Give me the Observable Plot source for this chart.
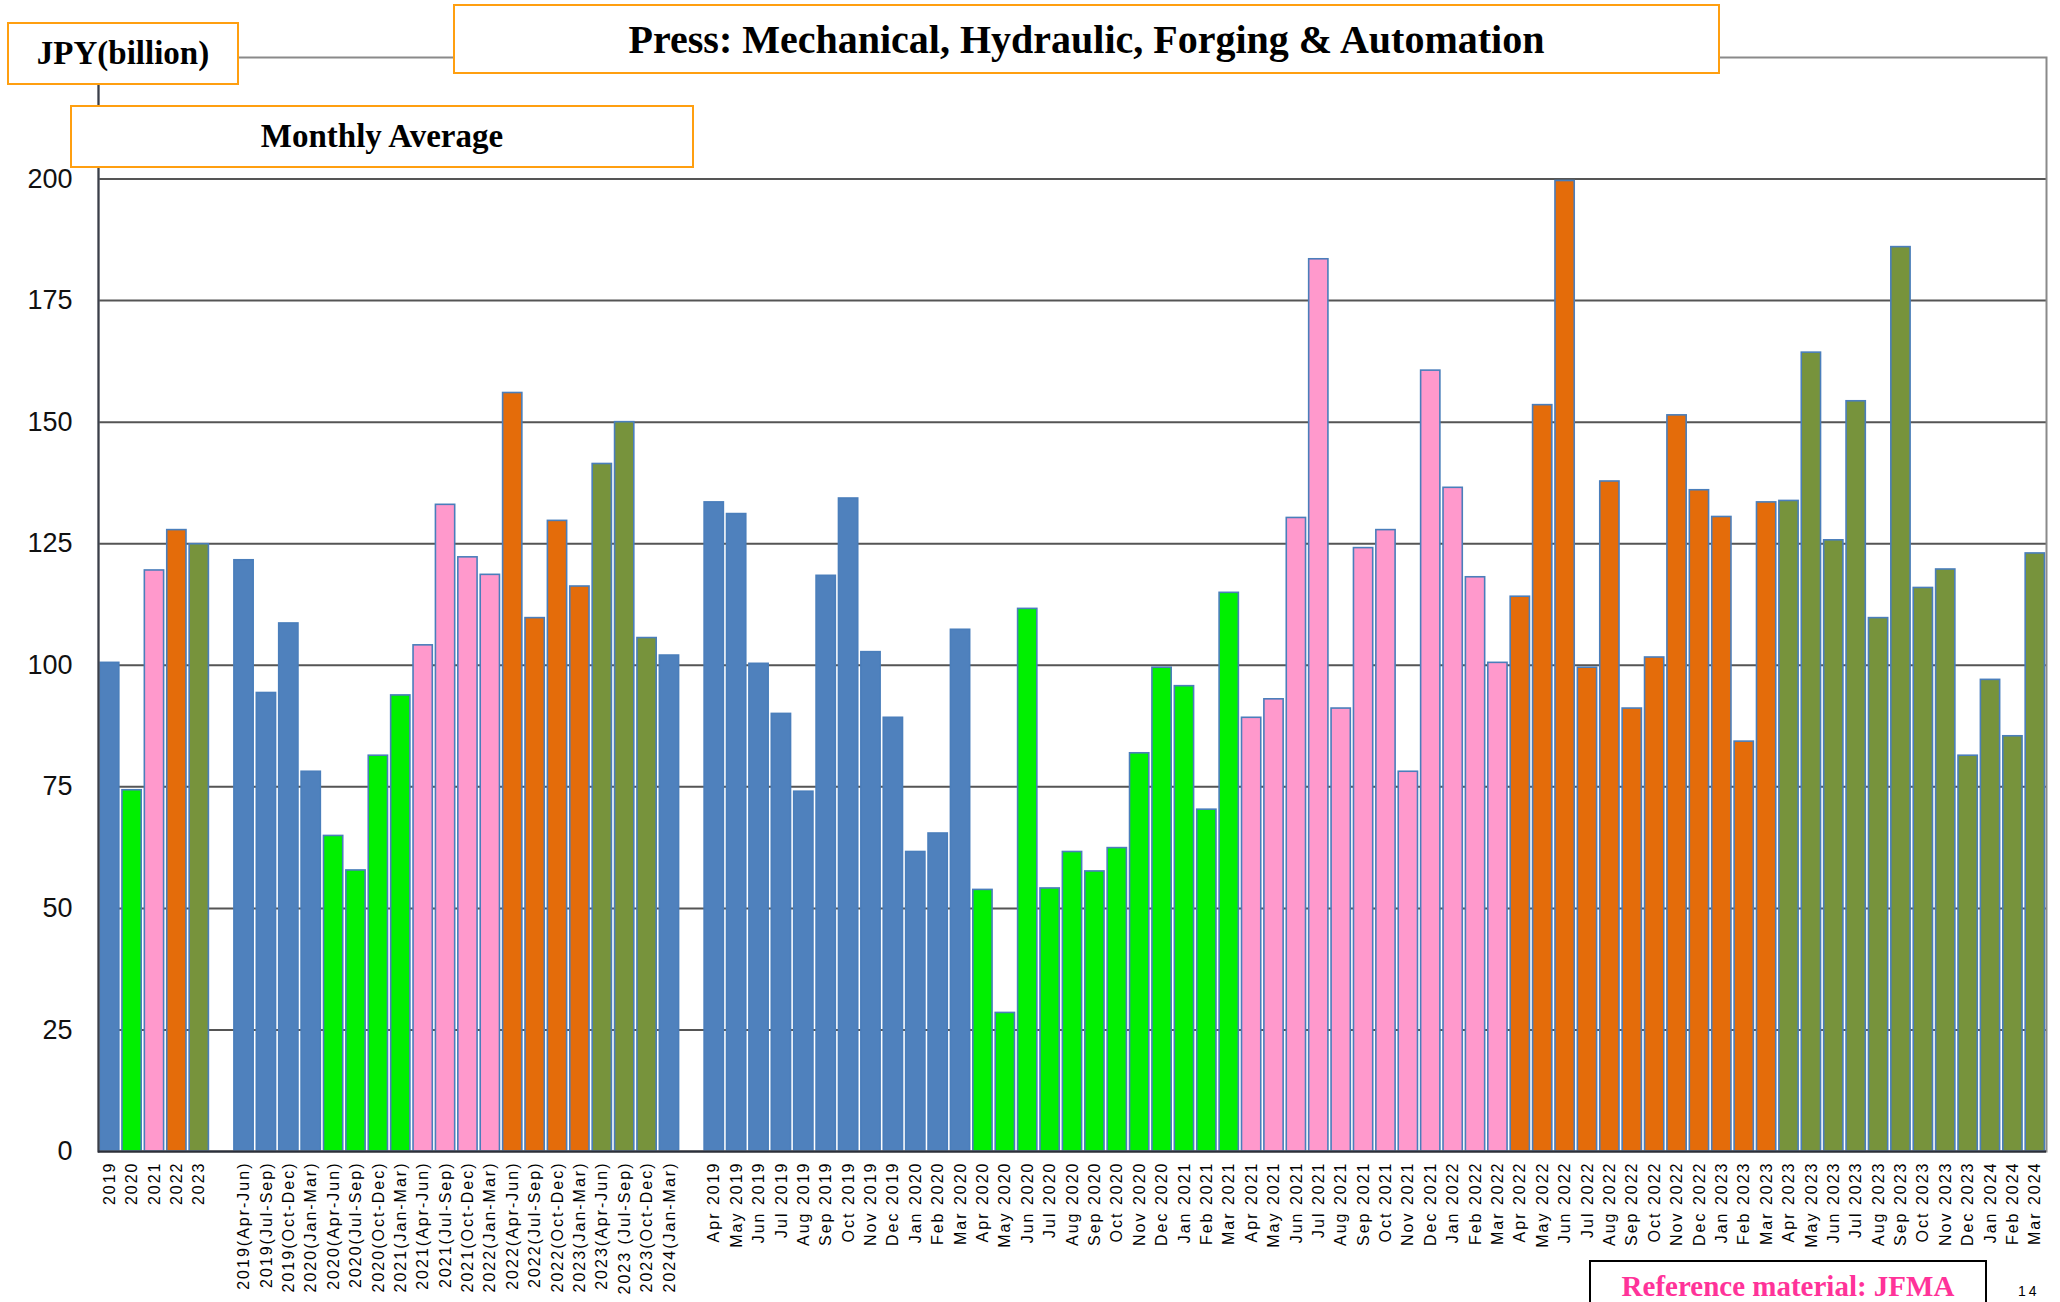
<!DOCTYPE html>
<html>
<head>
<meta charset="utf-8">
<script src="https://cdn.jsdelivr.net/npm/d3@7"></script>
<script src="https://cdn.jsdelivr.net/npm/@observablehq/plot@0.6"></script>
<style>
  html, body { margin: 0; padding: 0; background: #fff; }
  body { width: 2060px; height: 1302px; overflow: hidden; position: relative; }
  #chart { position: absolute; left: 0; top: 0; }
  .box {
    position: absolute; box-sizing: border-box; background: #fff;
    border: 2.5px solid #FF9F10; display: flex; align-items: center; justify-content: center;
    font-family: "Liberation Serif", "Times New Roman", serif; font-weight: bold; color: #000;
    white-space: nowrap;
  }
  .ref {
    position: absolute; box-sizing: border-box; background: #fff;
    left: 1589px; top: 1260px; width: 398px; height: 70px; border: 2.5px solid #000;
  }
  .reftext {
    position: absolute; left: 1589px; width: 398px; top: 1272px; text-align: center;
    font-family: "Liberation Serif", "Times New Roman", serif; font-weight: bold;
    color: #FF3399; font-size: 29px; line-height: 29px; white-space: nowrap;
  }
  .pageno {
    position: absolute; left: 2018px; top: 1284px; font-family: 'Liberation Sans', Arial, sans-serif;
    font-size: 14px; line-height: 14px; letter-spacing: 3px; color: #000;
  }
  g[aria-label="x-axis tick label"] text { letter-spacing: 2px; }
</style>
</head>
<body>
<div id="chart"></div>
<div class="box" style="left:7px;top:22px;width:232px;height:63px;font-size:33px;">JPY(billion)</div>
<div class="box" style="left:453px;top:4px;width:1267px;height:70px;font-size:40px;">Press: Mechanical, Hydraulic, Forging &amp; Automation</div>
<div class="box" style="left:70px;top:105px;width:624px;height:63px;font-size:33px;">Monthly Average</div>
<div class="ref"></div>
<div class="reftext">Reference material: JFMA</div>
<div class="pageno">14</div>
<script>
// ---- Data ----
const annualLabels = ["2019", "2020", "2021", "2022", "2023"];
const annualValues = [100.5, 74.3, 119.5, 127.8, 124.9];
const annualFY = ["FY2019", "FY2020", "FY2021", "FY2022", "FY2023"];

const quarterLabels = [
  "2019(Apr-Jun)", "2019(Jul-Sep)", "2019(Oct-Dec)", "2020(Jan-Mar)",
  "2020(Apr-Jun)", "2020(Jul-Sep)", "2020(Oct-Dec)", "2021(Jan-Mar)",
  "2021(Apr-Jun)", "2021(Jul-Sep)", "2021(Oct-Dec)", "2022(Jan-Mar)",
  "2022(Apr-Jun)", "2022(Jul-Sep)", "2022(Oct-Dec)", "2023(Jan-Mar)",
  "2023(Apr-Jun)", "2023 (Jul-Sep)", "2023(Oct-Dec)", "2024(Jan-Mar)"
];
const quarterValues = [
  121.6, 94.3, 108.6, 78.1,
  64.9, 57.8, 81.4, 93.8,
  104.1, 133.0, 122.2, 118.6,
  156.0, 109.7, 129.7, 116.2,
  141.4, 150.0, 105.6, 102.0
];
const quarterFY = [
  "FY2019", "FY2019", "FY2019", "FY2019",
  "FY2020", "FY2020", "FY2020", "FY2020",
  "FY2021", "FY2021", "FY2021", "FY2021",
  "FY2022", "FY2022", "FY2022", "FY2022",
  "FY2023", "FY2023", "FY2023", "FY2019"
];

const monthLabels = [
  "Apr 2019", "May 2019", "Jun 2019", "Jul 2019", "Aug 2019", "Sep 2019",
  "Oct 2019", "Nov 2019", "Dec 2019", "Jan 2020", "Feb 2020", "Mar 2020",
  "Apr 2020", "May 2020", "Jun 2020", "Jul 2020", "Aug 2020", "Sep 2020",
  "Oct 2020", "Nov 2020", "Dec 2020", "Jan 2021", "Feb 2021", "Mar 2021",
  "Apr 2021", "May 2021", "Jun 2021", "Jul 2021", "Aug 2021", "Sep 2021",
  "Oct 2021", "Nov 2021", "Dec 2021", "Jan 2022", "Feb 2022", "Mar 2022",
  "Apr 2022", "May 2022", "Jun 2022", "Jul 2022", "Aug 2022", "Sep 2022",
  "Oct 2022", "Nov 2022", "Dec 2022", "Jan 2023", "Feb 2023", "Mar 2023",
  "Apr 2023", "May 2023", "Jun 2023", "Jul 2023", "Aug 2023", "Sep 2023",
  "Oct 2023", "Nov 2023", "Dec 2023", "Jan 2024", "Feb 2024", "Mar 2024"
];
const monthValues = [
  133.5, 131.1, 100.3, 90.0, 74.0, 118.4,
  134.3, 102.7, 89.2, 61.6, 65.4, 107.3,
  53.8, 28.5, 111.6, 54.1, 61.6, 57.6,
  62.4, 81.9, 99.5, 95.7, 70.3, 114.9,
  89.2, 93.0, 130.3, 183.5, 91.1, 124.1,
  127.8, 78.1, 160.6, 136.5, 118.1, 100.5,
  114.1, 153.5, 199.6, 99.5, 137.8, 91.1,
  101.6, 151.4, 136.0, 130.5, 84.3, 133.5,
  133.8, 164.3, 125.7, 154.3, 109.7, 186.0,
  115.9, 119.7, 81.4, 97.0, 85.4, 123.0
];
const monthFY = [
  "FY2019", "FY2019", "FY2019", "FY2019", "FY2019", "FY2019",
  "FY2019", "FY2019", "FY2019", "FY2019", "FY2019", "FY2019",
  "FY2020", "FY2020", "FY2020", "FY2020", "FY2020", "FY2020",
  "FY2020", "FY2020", "FY2020", "FY2020", "FY2020", "FY2020",
  "FY2021", "FY2021", "FY2021", "FY2021", "FY2021", "FY2021",
  "FY2021", "FY2021", "FY2021", "FY2021", "FY2021", "FY2021",
  "FY2022", "FY2022", "FY2022", "FY2022", "FY2022", "FY2022",
  "FY2022", "FY2022", "FY2022", "FY2022", "FY2022", "FY2022",
  "FY2023", "FY2023", "FY2023", "FY2023", "FY2023", "FY2023",
  "FY2023", "FY2023", "FY2023", "FY2023", "FY2023", "FY2023"
];

const fyNames = ["FY2019", "FY2020", "FY2021", "FY2022", "FY2023"];
const fyColors = ["#4F81BD", "#00F000", "#FF99CC", "#E46C0A", "#77933C"];
const yTicks = [0, 25, 50, 75, 100, 125, 150, 175, 200];

// ---- Build table ----
const rows = [];
annualLabels.forEach((l, i) => rows.push({label: l, value: annualValues[i], fy: annualFY[i]}));
quarterLabels.forEach((l, i) => rows.push({label: l, value: quarterValues[i], fy: quarterFY[i]}));
monthLabels.forEach((l, i) => rows.push({label: l, value: monthValues[i], fy: monthFY[i]}));

const xDomain = [...annualLabels, "gap1", ...quarterLabels, "gap2", ...monthLabels];

const chart = Plot.plot({
  width: 2060,
  height: 1302,
  marginLeft: 98,
  marginRight: 14,
  marginTop: 57,
  marginBottom: 151,
  style: {fontFamily: "'Liberation Sans', Arial, sans-serif", background: "#fff", color: "#000"},
  x: {type: "band", domain: xDomain, paddingInner: 0.14, paddingOuter: 0.07, axis: null, label: null},
  y: {domain: [0, 225], axis: null, label: null},
  color: {domain: fyNames, range: fyColors},
  marks: [
    Plot.gridY(yTicks, {stroke: "#555", strokeOpacity: 1, strokeWidth: 2}),
    Plot.barY(rows, {x: "label", y: "value", fill: "fy", stroke: "#4A7EBB", strokeWidth: 1.6}),
    Plot.frame({stroke: "#8a8a8a", strokeWidth: 2}),
    Plot.frame({anchor: "left", stroke: "#3a3f4a", strokeWidth: 2}),
    Plot.ruleY([0], {stroke: "#2b2f3a", strokeWidth: 2}),
    Plot.axisY({ticks: yTicks, tickSize: 0, tickPadding: 26, fontSize: 27, fill: "#111", label: null}),
    Plot.axisX({
      tickRotate: -90, tickSize: 0, tickPadding: 10, fontSize: 16, fill: "#000", label: null,
      tickFormat: d => d.startsWith("gap") ? "" : d
    })
  ]
});
document.getElementById("chart").appendChild(chart);
</script>
</body>
</html>
